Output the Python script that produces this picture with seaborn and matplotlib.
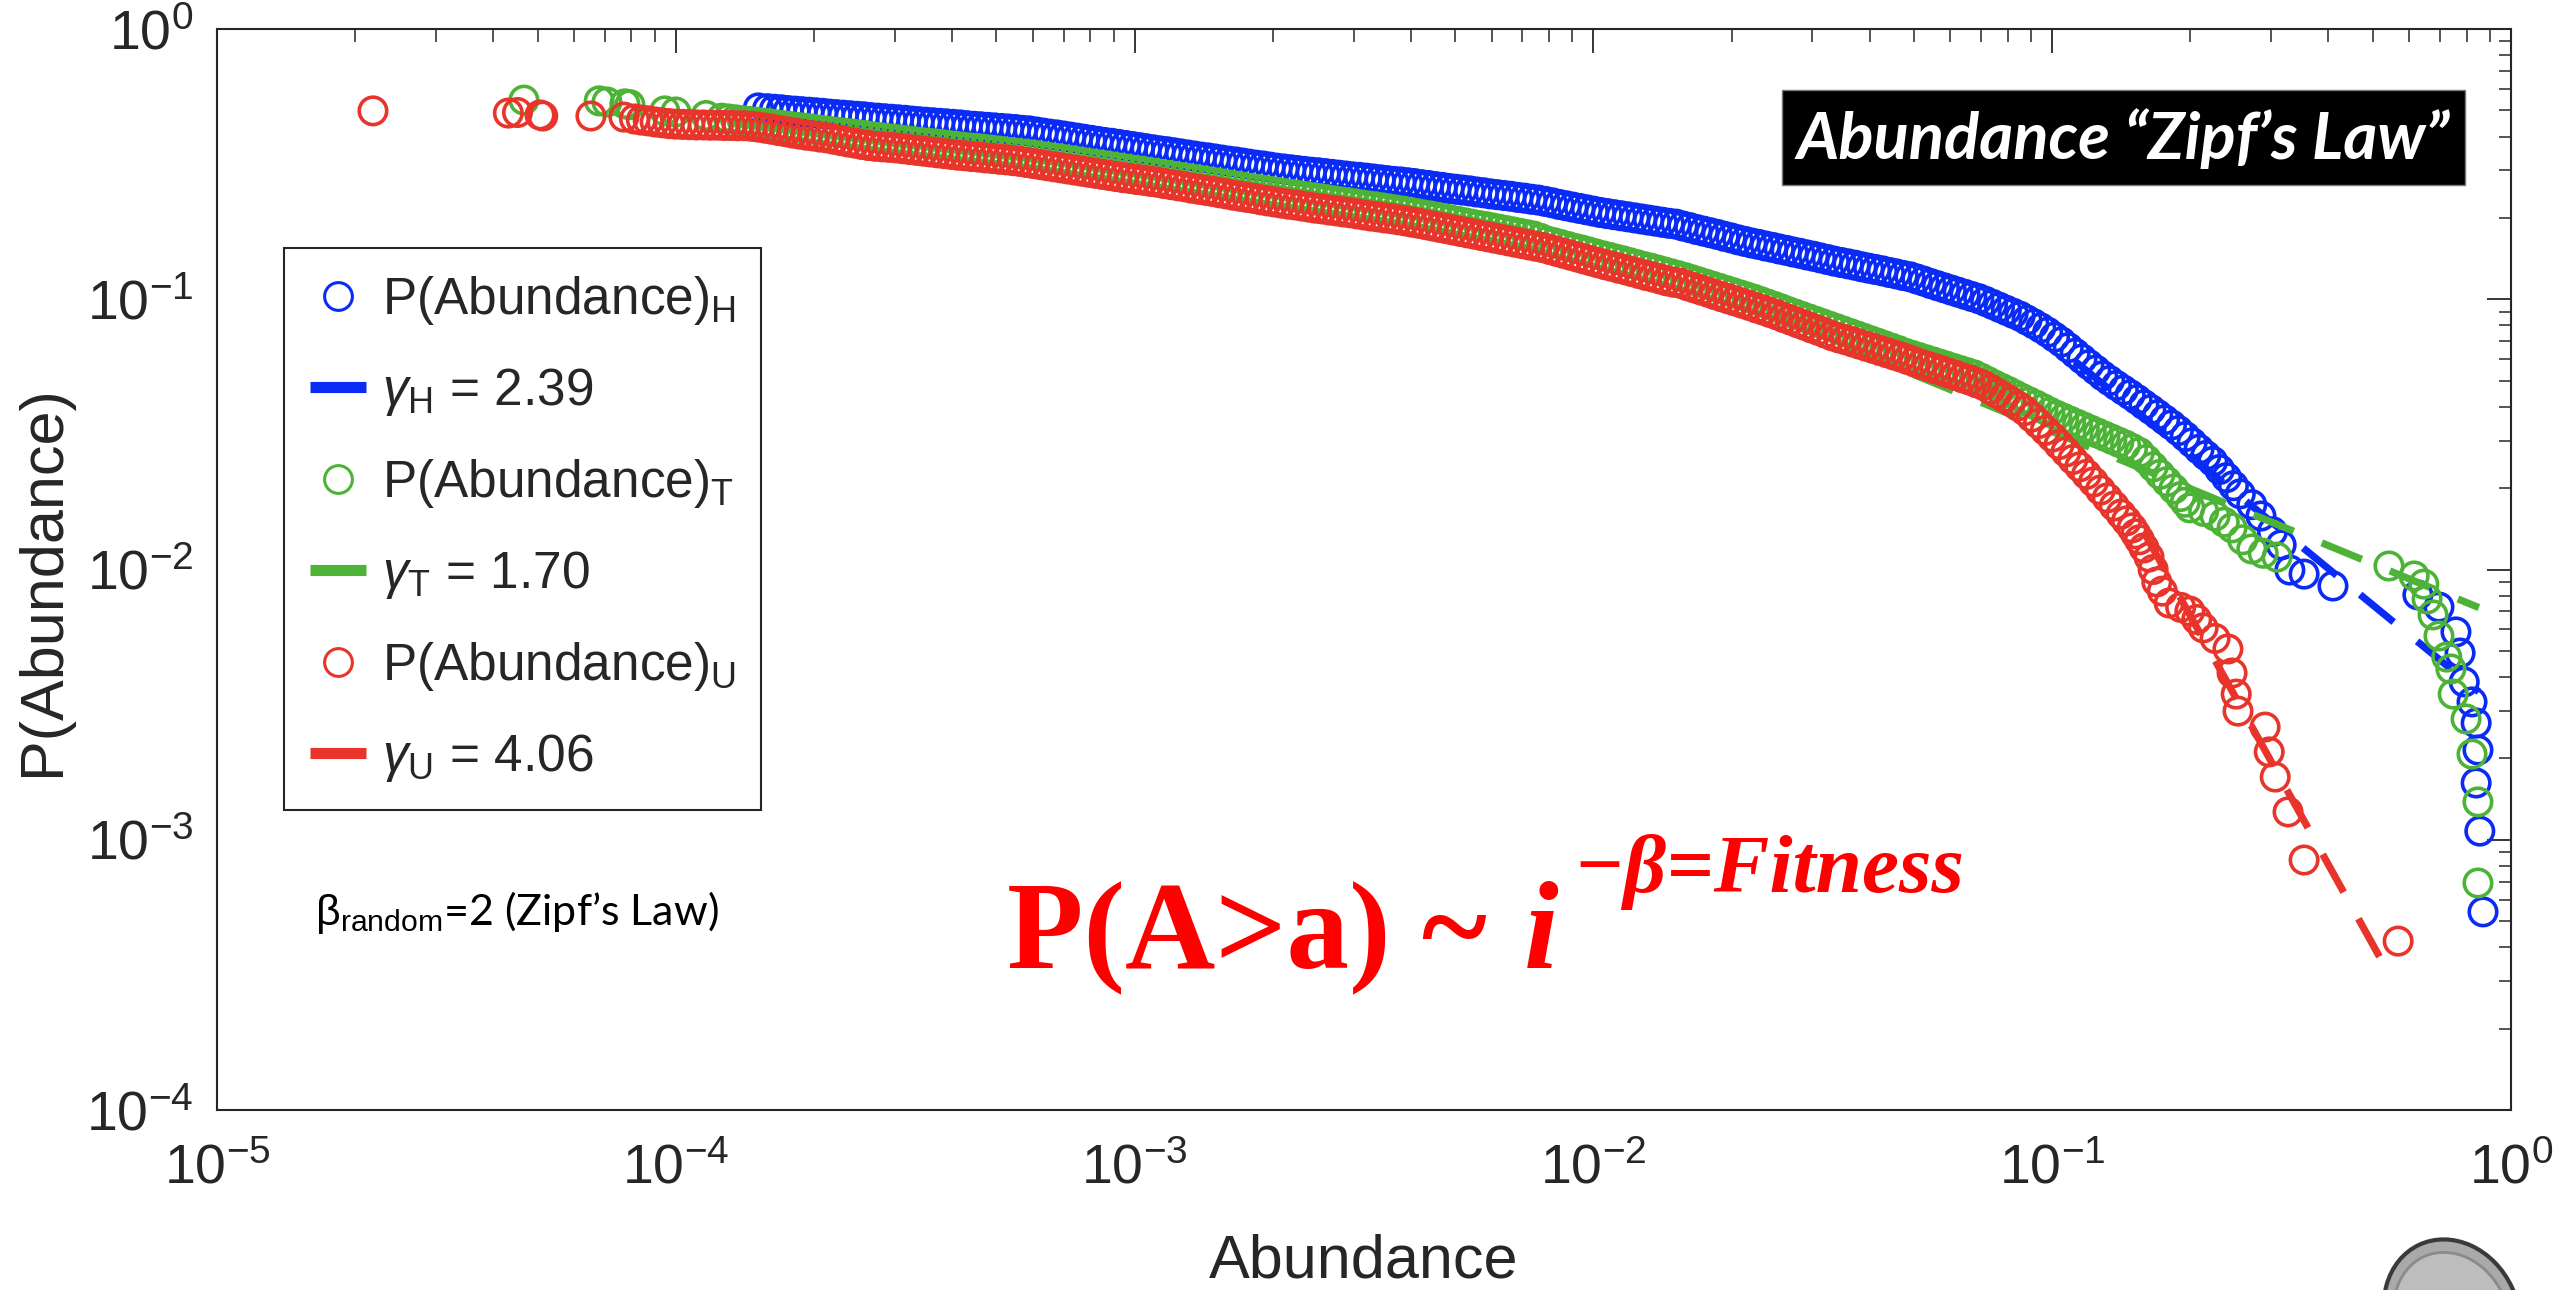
import numpy as np
import matplotlib
matplotlib.use("Agg")
import matplotlib.pyplot as plt
from matplotlib.lines import Line2D
from matplotlib.patches import Rectangle, Ellipse
from matplotlib.transforms import IdentityTransform
import seaborn as sns

sns.set_style("white")
plt.rcParams['font.family'] = ['Liberation Sans', 'DejaVu Sans']
plt.rcParams['mathtext.fontset'] = 'custom'
plt.rcParams['mathtext.rm'] = 'Liberation Sans'
plt.rcParams['mathtext.it'] = 'Liberation Sans:italic'
plt.rcParams['mathtext.bf'] = 'Liberation Sans:bold'

# ---------------- data (log10 values) ----------------
H_logA = [-3.82, -3.800, -3.785, -3.770, -3.755, -3.740, -3.725, -3.710, -3.695, -3.680, -3.665, -3.650, -3.635,
          -3.620, -3.605, -3.590, -3.575, -3.560, -3.545, -3.530, -3.515, -3.500, -3.485, -3.470, -3.455, -3.440,
          -3.425, -3.410, -3.395, -3.380, -3.365, -3.350, -3.335, -3.320, -3.305, -3.290, -3.275, -3.260, -3.245,
          -3.230, -3.215, -3.200, -3.185, -3.170, -3.155, -3.140, -3.125, -3.110, -3.095, -3.080, -3.065, -3.050,
          -3.035, -3.020, -3.005, -2.990, -2.975, -2.960, -2.945, -2.930, -2.915, -2.900, -2.885, -2.870, -2.855,
          -2.840, -2.825, -2.810, -2.795, -2.780, -2.765, -2.750, -2.735, -2.720, -2.705, -2.690, -2.675, -2.660,
          -2.645, -2.630, -2.615, -2.600, -2.585, -2.570, -2.555, -2.540, -2.525, -2.510, -2.495, -2.480, -2.465,
          -2.450, -2.435, -2.420, -2.405, -2.390, -2.375, -2.360, -2.345, -2.330, -2.315, -2.300, -2.285, -2.270,
          -2.255, -2.240, -2.225, -2.210, -2.195, -2.180, -2.165, -2.150, -2.135, -2.120, -2.105, -2.090, -2.075,
          -2.060, -2.045, -2.030, -2.015, -2.000, -1.985, -1.970, -1.955, -1.940, -1.925, -1.910, -1.895, -1.880,
          -1.865, -1.850, -1.835, -1.820, -1.805, -1.790, -1.775, -1.760, -1.745, -1.730, -1.715, -1.700, -1.685,
          -1.670, -1.655, -1.640, -1.625, -1.610, -1.595, -1.580, -1.565, -1.550, -1.535, -1.520, -1.505, -1.490,
          -1.475, -1.460, -1.445, -1.430, -1.415, -1.400, -1.385, -1.370, -1.355, -1.340, -1.325, -1.310, -1.295,
          -1.280, -1.265, -1.250, -1.235, -1.220, -1.205, -1.190, -1.175, -1.160, -1.145, -1.130, -1.115, -1.100,
          -1.085, -1.070, -1.055, -1.040, -1.025, -1.010, -0.995, -0.980, -0.965, -0.950, -0.935, -0.920, -0.905,
          -0.890, -0.875, -0.860, -0.845, -0.830, -0.815, -0.800, -0.785, -0.770, -0.755, -0.740, -0.725, -0.710,
          -0.695, -0.680, -0.665, -0.650, -0.635, -0.620, -0.605, -0.590, -0.565, -0.545, -0.520, -0.501, -0.482,
          -0.451, -0.388,
          -0.203, -0.157, -0.120, -0.111, -0.102, -0.085, -0.076, -0.072, -0.076, -0.068, -0.061]
H_logP = [-0.292, -0.295, -0.297, -0.299, -0.302, -0.304, -0.306, -0.308, -0.310, -0.312, -0.315, -0.317, -0.319,
          -0.321, -0.323, -0.325, -0.328, -0.330, -0.332, -0.334, -0.336, -0.338, -0.341, -0.343, -0.345, -0.347,
          -0.349, -0.351, -0.353, -0.355, -0.358, -0.360, -0.362, -0.364, -0.366, -0.368, -0.370, -0.372, -0.375,
          -0.377, -0.381, -0.385, -0.389, -0.392, -0.396, -0.400, -0.404, -0.408, -0.412, -0.416, -0.420, -0.423,
          -0.427, -0.431, -0.435, -0.439, -0.443, -0.447, -0.451, -0.454, -0.458, -0.462, -0.466, -0.470, -0.474,
          -0.477, -0.481, -0.485, -0.489, -0.492, -0.496, -0.500, -0.504, -0.507, -0.511, -0.515, -0.518, -0.521,
          -0.524, -0.527, -0.530, -0.532, -0.535, -0.538, -0.541, -0.544, -0.547, -0.549, -0.552, -0.555, -0.558,
          -0.561, -0.564, -0.566, -0.569, -0.572, -0.576, -0.579, -0.583, -0.586, -0.590, -0.593, -0.596, -0.599,
          -0.603, -0.606, -0.610, -0.613, -0.616, -0.619, -0.623, -0.626, -0.630, -0.633, -0.638, -0.643, -0.649,
          -0.654, -0.659, -0.664, -0.669, -0.674, -0.679, -0.683, -0.687, -0.691, -0.695, -0.699, -0.703, -0.707,
          -0.711, -0.715, -0.719, -0.722, -0.729, -0.735, -0.742, -0.748, -0.754, -0.760, -0.767, -0.773, -0.780,
          -0.786, -0.792, -0.797, -0.803, -0.808, -0.814, -0.819, -0.825, -0.830, -0.836, -0.841, -0.847, -0.853,
          -0.859, -0.864, -0.869, -0.874, -0.880, -0.885, -0.890, -0.895, -0.901, -0.906, -0.912, -0.917, -0.925,
          -0.933, -0.942, -0.950, -0.958, -0.966, -0.974, -0.982, -0.990, -0.998, -1.008, -1.019, -1.030, -1.041,
          -1.052, -1.063, -1.077, -1.091, -1.106, -1.122, -1.140, -1.158, -1.179, -1.200, -1.221, -1.242, -1.262,
          -1.283, -1.301, -1.319, -1.336, -1.353, -1.371, -1.390, -1.408, -1.427, -1.446, -1.465, -1.486, -1.508,
          -1.531, -1.555, -1.578, -1.600, -1.630, -1.660, -1.690, -1.720, -1.760, -1.802, -1.860, -1.909, -2.002,
          -2.017, -2.061,
          -2.094, -2.139, -2.231, -2.309, -2.416, -2.490, -2.568, -2.668, -2.790, -2.968, -3.267]

T_logA = [-4.331, -4.167, -4.150, -4.111, -4.100, -4.024, -4.000, -3.934,
          -3.900, -3.885, -3.870, -3.855, -3.840, -3.825, -3.810, -3.795, -3.780, -3.765, -3.750, -3.735, -3.720,
          -3.705, -3.690, -3.675, -3.660, -3.645, -3.630, -3.615, -3.600, -3.585, -3.570, -3.555, -3.540, -3.525,
          -3.510, -3.495, -3.480, -3.465, -3.450, -3.435, -3.420, -3.405, -3.390, -3.375, -3.360, -3.345, -3.330,
          -3.315, -3.300, -3.285, -3.270, -3.255, -3.240, -3.225, -3.210, -3.195, -3.180, -3.165, -3.150, -3.135,
          -3.120, -3.105, -3.090, -3.075, -3.060, -3.045, -3.030, -3.015, -3.000, -2.985, -2.970, -2.955, -2.940,
          -2.925, -2.910, -2.895, -2.880, -2.865, -2.850, -2.835, -2.820, -2.805, -2.790, -2.775, -2.760, -2.745,
          -2.730, -2.715, -2.700, -2.685, -2.670, -2.655, -2.640, -2.625, -2.610, -2.595, -2.580, -2.565, -2.550,
          -2.535, -2.520, -2.505, -2.490, -2.475, -2.460, -2.445, -2.430, -2.415, -2.400, -2.385, -2.370, -2.355,
          -2.340, -2.325, -2.310, -2.295, -2.280, -2.265, -2.250, -2.235, -2.220, -2.205, -2.190, -2.175, -2.160,
          -2.145, -2.130, -2.115, -2.100, -2.085, -2.070, -2.055, -2.040, -2.025, -2.010, -1.995, -1.980, -1.965,
          -1.950, -1.935, -1.920, -1.905, -1.890, -1.875, -1.860, -1.845, -1.830, -1.815, -1.800, -1.785, -1.770,
          -1.755, -1.740, -1.725, -1.710, -1.695, -1.680, -1.665, -1.650, -1.635, -1.620, -1.605, -1.590, -1.575,
          -1.560, -1.545, -1.530, -1.515, -1.500, -1.485, -1.470, -1.455, -1.440, -1.425, -1.410, -1.395, -1.380,
          -1.365, -1.350, -1.335, -1.320, -1.305, -1.290, -1.275, -1.260, -1.245, -1.230, -1.215, -1.200, -1.185,
          -1.170, -1.155, -1.140, -1.125, -1.110, -1.095, -1.080, -1.065, -1.050, -1.035, -1.020, -1.005, -0.990,
          -0.975, -0.960, -0.945, -0.930, -0.915, -0.900, -0.885, -0.870, -0.855, -0.840, -0.825, -0.810, -0.795,
          -0.780, -0.765, -0.750, -0.735, -0.720, -0.710, -0.700, -0.670, -0.645, -0.625, -0.608, -0.585, -0.565,
          -0.540, -0.510,
          -0.266, -0.211, -0.190, -0.183, -0.170, -0.157, -0.140, -0.131, -0.126, -0.098, -0.085, -0.072, -0.072]
T_logP = [-0.263, -0.266, -0.270, -0.277, -0.280, -0.303, -0.307, -0.320,
          -0.330, -0.333, -0.336, -0.339, -0.342, -0.345, -0.348, -0.351, -0.355, -0.358, -0.361, -0.364, -0.367,
          -0.370, -0.374, -0.377, -0.380, -0.383, -0.386, -0.389, -0.392, -0.395, -0.399, -0.402, -0.405, -0.408,
          -0.411, -0.414, -0.417, -0.420, -0.423, -0.425, -0.428, -0.431, -0.434, -0.437, -0.440, -0.442, -0.445,
          -0.448, -0.451, -0.454, -0.457, -0.460, -0.463, -0.466, -0.469, -0.473, -0.477, -0.480, -0.484, -0.488,
          -0.492, -0.496, -0.500, -0.503, -0.507, -0.511, -0.515, -0.519, -0.523, -0.526, -0.530, -0.534, -0.538,
          -0.542, -0.546, -0.550, -0.554, -0.558, -0.562, -0.566, -0.570, -0.574, -0.578, -0.582, -0.586, -0.590,
          -0.594, -0.598, -0.602, -0.606, -0.610, -0.613, -0.617, -0.621, -0.625, -0.628, -0.632, -0.636, -0.640,
          -0.643, -0.647, -0.651, -0.655, -0.658, -0.662, -0.666, -0.670, -0.674, -0.678, -0.683, -0.688, -0.692,
          -0.697, -0.702, -0.707, -0.712, -0.717, -0.722, -0.727, -0.731, -0.736, -0.741, -0.746, -0.751, -0.756,
          -0.761, -0.766, -0.775, -0.785, -0.791, -0.798, -0.805, -0.812, -0.818, -0.825, -0.832, -0.839, -0.845,
          -0.852, -0.858, -0.865, -0.872, -0.879, -0.885, -0.892, -0.899, -0.906, -0.913, -0.920, -0.928, -0.936,
          -0.944, -0.952, -0.960, -0.968, -0.976, -0.984, -0.992, -1.000, -1.009, -1.018, -1.027, -1.036, -1.046,
          -1.055, -1.064, -1.073, -1.082, -1.091, -1.100, -1.109, -1.118, -1.127, -1.136, -1.145, -1.154, -1.163,
          -1.172, -1.181, -1.190, -1.200, -1.208, -1.216, -1.224, -1.232, -1.240, -1.248, -1.256, -1.264, -1.272,
          -1.280, -1.292, -1.305, -1.318, -1.330, -1.342, -1.355, -1.368, -1.380, -1.392, -1.405, -1.418, -1.430,
          -1.441, -1.452, -1.463, -1.474, -1.485, -1.496, -1.507, -1.518, -1.529, -1.540, -1.553, -1.567, -1.593,
          -1.620, -1.648, -1.675, -1.702, -1.730, -1.751, -1.772, -1.785, -1.802, -1.825, -1.846, -1.890, -1.924,
          -1.940, -1.954,
          -1.987, -2.024, -2.054, -2.109, -2.168, -2.246, -2.324, -2.368, -2.461, -2.553, -2.683, -2.860, -3.160]

U_logA = [-4.660, -4.365, -4.345, -4.296, -4.290, -4.185, -4.113,
          -4.090, -4.075, -4.060, -4.045, -4.030, -4.015, -4.000, -3.985, -3.970, -3.955, -3.940, -3.925, -3.910,
          -3.895, -3.880, -3.865, -3.850, -3.835, -3.820, -3.805, -3.790, -3.775, -3.760, -3.745, -3.730, -3.715,
          -3.700, -3.685, -3.670, -3.655, -3.640, -3.625, -3.610, -3.595, -3.580, -3.565, -3.550, -3.535, -3.520,
          -3.505, -3.490, -3.475, -3.460, -3.445, -3.430, -3.415, -3.400, -3.385, -3.370, -3.355, -3.340, -3.325,
          -3.310, -3.295, -3.280, -3.265, -3.250, -3.235, -3.220, -3.205, -3.190, -3.175, -3.160, -3.145, -3.130,
          -3.115, -3.100, -3.085, -3.070, -3.055, -3.040, -3.025, -3.010, -2.995, -2.980, -2.965, -2.950, -2.935,
          -2.920, -2.905, -2.890, -2.875, -2.860, -2.845, -2.830, -2.815, -2.800, -2.785, -2.770, -2.755, -2.740,
          -2.725, -2.710, -2.695, -2.680, -2.665, -2.650, -2.635, -2.620, -2.605, -2.590, -2.575, -2.560, -2.545,
          -2.530, -2.515, -2.500, -2.485, -2.470, -2.455, -2.440, -2.425, -2.410, -2.395, -2.380, -2.365, -2.350,
          -2.335, -2.320, -2.305, -2.290, -2.275, -2.260, -2.245, -2.230, -2.215, -2.200, -2.185, -2.170, -2.155,
          -2.140, -2.125, -2.110, -2.095, -2.080, -2.065, -2.050, -2.035, -2.020, -2.005, -1.990, -1.975, -1.960,
          -1.945, -1.930, -1.915, -1.900, -1.885, -1.870, -1.855, -1.840, -1.825, -1.810, -1.795, -1.780, -1.765,
          -1.750, -1.735, -1.720, -1.705, -1.690, -1.675, -1.660, -1.645, -1.630, -1.615, -1.600, -1.585, -1.570,
          -1.555, -1.540, -1.525, -1.510, -1.495, -1.480, -1.465, -1.450, -1.435, -1.420, -1.405, -1.390, -1.375,
          -1.360, -1.345, -1.330, -1.315, -1.300, -1.285, -1.270, -1.255, -1.240, -1.225, -1.210, -1.195, -1.180,
          -1.165, -1.150, -1.135, -1.120, -1.105, -1.090, -1.075, -1.060, -1.045, -1.030, -1.015, -1.000, -0.985,
          -0.970, -0.955, -0.940, -0.925, -0.910, -0.895, -0.880, -0.865, -0.850, -0.838, -0.826, -0.818, -0.810,
          -0.800, -0.789, -0.780, -0.772, -0.760, -0.745, -0.720, -0.700, -0.685, -0.671, -0.645, -0.617, -0.608,
          -0.599, -0.595, -0.536, -0.527, -0.514, -0.486, -0.451, -0.246]
U_logP = [-0.303, -0.311, -0.309, -0.318, -0.322, -0.322, -0.326,
          -0.333, -0.337, -0.340, -0.344, -0.347, -0.350, -0.352, -0.353, -0.354, -0.355, -0.355, -0.356, -0.356,
          -0.357, -0.357, -0.358, -0.358, -0.360, -0.363, -0.367, -0.371, -0.376, -0.380, -0.385, -0.389, -0.393,
          -0.396, -0.400, -0.403, -0.408, -0.413, -0.418, -0.422, -0.427, -0.431, -0.434, -0.436, -0.438, -0.440,
          -0.443, -0.446, -0.449, -0.452, -0.455, -0.458, -0.461, -0.464, -0.467, -0.469, -0.472, -0.474, -0.477,
          -0.479, -0.482, -0.484, -0.487, -0.490, -0.494, -0.498, -0.502, -0.506, -0.510, -0.514, -0.518, -0.522,
          -0.526, -0.530, -0.534, -0.538, -0.542, -0.546, -0.550, -0.553, -0.557, -0.560, -0.564, -0.567, -0.572,
          -0.576, -0.580, -0.584, -0.589, -0.593, -0.597, -0.601, -0.606, -0.610, -0.615, -0.619, -0.623, -0.627,
          -0.632, -0.636, -0.640, -0.644, -0.648, -0.651, -0.655, -0.659, -0.663, -0.666, -0.670, -0.673, -0.677,
          -0.680, -0.684, -0.688, -0.692, -0.695, -0.699, -0.702, -0.706, -0.710, -0.715, -0.719, -0.724, -0.729,
          -0.734, -0.739, -0.744, -0.749, -0.754, -0.759, -0.764, -0.769, -0.774, -0.779, -0.784, -0.789, -0.794,
          -0.799, -0.804, -0.809, -0.816, -0.823, -0.830, -0.837, -0.844, -0.851, -0.858, -0.865, -0.872, -0.878,
          -0.885, -0.891, -0.898, -0.905, -0.912, -0.918, -0.925, -0.932, -0.937, -0.941, -0.950, -0.958, -0.966,
          -0.974, -0.983, -0.991, -0.999, -1.007, -1.015, -1.023, -1.032, -1.040, -1.049, -1.058, -1.068, -1.077,
          -1.087, -1.096, -1.106, -1.115, -1.125, -1.135, -1.143, -1.150, -1.158, -1.166, -1.174, -1.182, -1.190,
          -1.198, -1.206, -1.214, -1.223, -1.232, -1.241, -1.249, -1.257, -1.265, -1.274, -1.282, -1.291, -1.299,
          -1.309, -1.318, -1.333, -1.348, -1.363, -1.378, -1.395, -1.412, -1.436, -1.460, -1.485, -1.510, -1.538,
          -1.565, -1.593, -1.620, -1.648, -1.676, -1.706, -1.735, -1.765, -1.795, -1.820, -1.846, -1.868, -1.890,
          -1.920, -1.954, -2.000, -2.046, -2.080, -2.124, -2.140, -2.154, -2.185, -2.216, -2.255, -2.294, -2.383,
          -2.461, -2.524, -2.583, -2.675, -2.768, -2.897, -3.075, -3.375]

series_names = ["H", "T", "U"]
gammas = [2.39, 1.70, 4.06]
fit_logC = [-2.55, -2.19, -4.31]          # intercept of the power-law fit (log10)
fit_logA_range = [(-0.95, -0.07), (-1.60, -0.07), (-0.80, -0.26)]

colors = {"H": "#0a2af5", "T": "#4db336", "U": "#e8342a"}

# ---------------- figure ----------------
W, H = 2560, 1290
fig = plt.figure(figsize=(W / 100, H / 100), dpi=100)
L, R, T, B = 217, 2511, 29, 1110
ax = fig.add_axes([L / W, 1 - B / H, (R - L) / W, (B - T) / H])
ax.set_xscale("log")
ax.set_yscale("log")

data = {"H": (H_logA, H_logP), "T": (T_logA, T_logP), "U": (U_logA, U_logP)}
z = 3
for name, g, c0, rng in zip(series_names, gammas, fit_logC, fit_logA_range):
    la, lp = data[name]
    col = colors[name]
    sns.scatterplot(x=10 ** np.array(la), y=10 ** np.array(lp), ax=ax, marker="o", s=390,
                    linewidth=2.6, legend=False, zorder=z)
    coll = ax.collections[-1]
    coll.set_facecolor("none")
    coll.set_edgecolor(col)
    coll.set_linewidth(2.6)
    coll.set_zorder(z)
    xs = 10 ** np.array(rng)
    ys = 10 ** c0 * xs ** (1 - g)
    sns.lineplot(x=xs, y=ys, ax=ax, color=col, linewidth=5.2, legend=False, zorder=z + 1)
    ln = ax.lines[-1]
    ln.set_linestyle((0, (6, 4.2)))
    ln.set_dash_capstyle("butt")
    ln.set_zorder(z + 1)
    z += 2

ax.set_xlim(1e-5, 1)
ax.set_ylim(1e-4, 1)

axc = "#262626"
for sp in ax.spines.values():
    sp.set_color(axc)
    sp.set_linewidth(1.5)
ax.tick_params(which="both", direction="in", top=True, right=True, color=axc, labelcolor=axc)
ax.tick_params(which="major", length=17, width=1.3, labelsize=40)
ax.tick_params(which="minor", length=9, width=1.1)
ax.tick_params(axis="x", which="major", pad=24)
ax.tick_params(axis="y", which="major", pad=17)
ax.xaxis.set_minor_locator(matplotlib.ticker.LogLocator(base=10, subs=np.arange(2, 10), numticks=20))
ax.yaxis.set_minor_locator(matplotlib.ticker.LogLocator(base=10, subs=np.arange(2, 10), numticks=20))
ax.xaxis.set_minor_formatter(matplotlib.ticker.NullFormatter())
ax.yaxis.set_minor_formatter(matplotlib.ticker.NullFormatter())

ax.set_xlabel("Abundance", fontsize=44, color=axc)
ax.set_ylabel("P(Abundance)", fontsize=44, color=axc)
ax.xaxis.set_label_coords(0.5, -(1234 - B) / (B - T))
ax.yaxis.set_label_coords(-(L - 72) / (R - L), 0.49)

# ---------------- legend ----------------
handles, labels = [], []
for name, g in zip(series_names, gammas):
    col = colors[name]
    handles.append(Line2D([], [], ls="none", marker="o", ms=20, mfc="none", mec=col, mew=2.2))
    labels.append(r"P(Abundance)$_\mathregular{%s}$" % name)
    handles.append(Line2D([], [], color=col, lw=8, solid_capstyle="butt"))
    labels.append(r"$\gamma_\mathregular{%s}$ = %.2f" % (name, g))
leg = ax.legend(handles, labels, loc="upper left", bbox_to_anchor=(284 / W, 1 - 248 / H),
                bbox_transform=fig.transFigure, fontsize=37, frameon=True, fancybox=False,
                edgecolor=axc, framealpha=1, borderaxespad=0, handlelength=1.1,
                handletextpad=0.3, labelspacing=0.76, borderpad=0.5)
leg.get_frame().set_linewidth(1.5)
leg.set_zorder(20)

# ---------------- annotations ----------------
def fx(px):
    return px / W

def fy(py):
    return 1 - py / H

# title box
fig.patches.append(Rectangle((fx(1782), fy(185)), fx(2465) - fx(1782), fy(90) - fy(185),
                             transform=fig.transFigure, facecolor="black", edgecolor="#777777",
                             linewidth=1.0, zorder=30))
fig.text(fx(2123), fy(139), "Abundance \u201cZipf\u2019s Law\u201d", color="white", fontsize=47,
         family=["Lato", "DejaVu Sans"], weight="bold", style="italic", ha="center", va="center", zorder=31)

# beta random note
fig.text(fx(315), fy(925), r"$\mathrm{\beta}_{\mathrm{random}}$" + "=2 (Zipf\u2019s Law)", fontsize=31,
         family=["Lato", "DejaVu Sans"], color="black", ha="left", va="baseline")

# big red formula
red = "#ff0000"
fig.text(fx(1007), fy(968), "P(A>a) ~", fontsize=90, family=["Liberation Serif"], weight="bold",
         color=red, ha="left", va="baseline")
fig.text(fx(1524), fy(968), "i", fontsize=90, family=["Liberation Serif"], weight="bold", style="italic",
         color=red, ha="left", va="baseline")
fig.text(fx(1573), fy(892), "\u2212\u03b2=Fitness", fontsize=60, family=["Liberation Serif"], weight="bold",
         style="italic", color=red, ha="left", va="baseline")

# grey decoration at bottom-right corner
fig.patches.append(Ellipse((2452, 1290 - 1315), 132, 155, angle=25, transform=IdentityTransform(),
                           facecolor="#a9a9a9", edgecolor="#3a3a3a", linewidth=3, zorder=5))
fig.patches.append(Ellipse((2452, 1290 - 1318), 112, 135, angle=25, transform=IdentityTransform(),
                           facecolor="#bdbdbd", edgecolor="#8a8a8a", linewidth=2, zorder=6))

fig.savefig("out.png", dpi=100)
